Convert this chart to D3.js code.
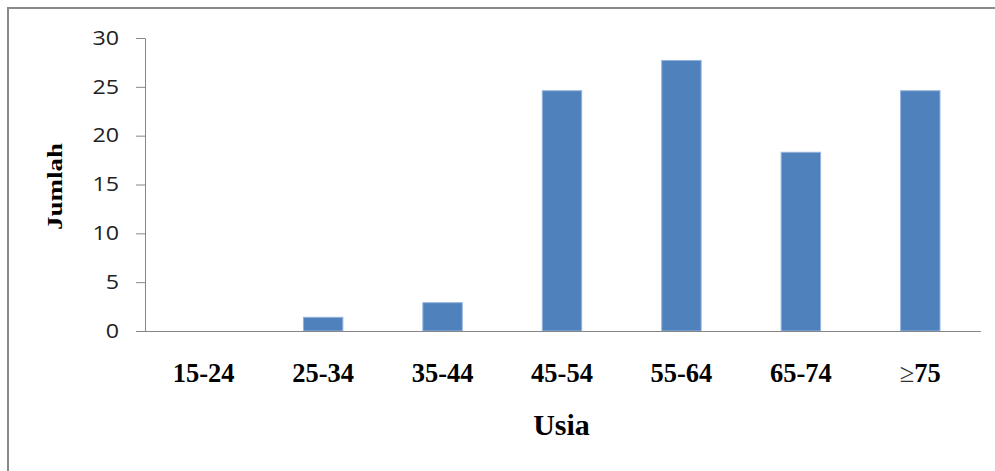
<!DOCTYPE html>
<html>
<head>
<meta charset="utf-8">
<script src="https://cdn.jsdelivr.net/npm/d3@7"></script>
<style>
  html, body { margin: 0; padding: 0; background: #fff; }
  svg { display: block; }
</style>
</head>
<body>
<div id="chart"></div>
<script>
// Age groups and patient counts (percent)
const categories = ["15-24", "25-34", "35-44", "45-54", "55-64", "65-74", "≥75"];
const values = [0, 1.4, 2.9, 24.6, 27.7, 18.3, 24.6];
const yTicks = [0, 5, 10, 15, 20, 25, 30];
const xTitle = "Usia";
const yTitle = "Jumlah";

const W = 995, H = 471;
const plot = { left: 145, right: 981, top: 38, bottom: 331 };

const svg = d3.select("#chart").append("svg")
  .attr("width", W).attr("height", H);

// outer chart frame (extends past the window on the right and bottom)
svg.append("rect")
  .attr("x", 8).attr("y", 8)
  .attr("width", 1100).attr("height", 600)
  .attr("fill", "none")
  .attr("stroke", "#8a8a8a")
  .attr("stroke-width", 2);

// category bands, slightly offset so bar centres sit on the label centres
const x = d3.scaleBand()
  .domain(categories)
  .range([plot.left - 1, plot.right - 1])
  .paddingInner(0.67)
  .paddingOuter(0.335);

const y = d3.scaleLinear().domain([0, 30]).range([plot.bottom, plot.top]);

// bars
svg.append("g").selectAll("rect")
  .data(categories.map((c, i) => ({ c, v: values[i] })))
  .join("rect")
  .attr("x", d => x(d.c))
  .attr("y", d => y(d.v))
  .attr("width", x.bandwidth())
  .attr("height", d => y(0) - y(d.v))
  .attr("fill", "#4f81bd")
  .attr("stroke", d => d.v > 0 ? "#94b3dc" : "none")
  .attr("stroke-width", 1);

// y axis
const yAxis = svg.append("g")
  .attr("transform", `translate(${plot.left},0)`)
  .call(d3.axisLeft(y).tickValues(yTicks).tickSize(9).tickSizeOuter(0).tickPadding(17));
yAxis.select(".domain").attr("stroke", "#868686");
yAxis.selectAll(".tick line").attr("stroke", "#868686");
yAxis.selectAll(".tick text")
  .attr("font-family", "'Open Sans', sans-serif")
  .attr("font-size", 19.5)
  .attr("fill", "#222")
  .attr("textLength", d => String(d).length * 13.3)
  .attr("lengthAdjust", "spacingAndGlyphs");

// x axis
const xAxis = svg.append("g")
  .attr("transform", `translate(0,${plot.bottom})`)
  .call(d3.axisBottom(x).tickSize(0).tickSizeOuter(0).tickFormat(""));
xAxis.select(".domain").attr("stroke", "#868686").attr("d", `M${plot.left},0.5H${plot.right}`);

// category labels
const lab = svg.append("g").selectAll("text")
  .data(categories)
  .join("text")
  .attr("x", d => x(d) + x.bandwidth() / 2)
  .attr("y", 381.5)
  .attr("text-anchor", "middle")
  .attr("font-family", "'Liberation Serif', 'Times New Roman', serif")
  .attr("font-size", 26.5)
  .attr("font-weight", "bold")
  .attr("fill", "#000");
lab.each(function(d) {
  const t = d3.select(this);
  if (d.startsWith("≥")) {
    t.append("tspan").attr("font-weight", "normal").attr("fill", "#333").text("≥");
    t.append("tspan").text(d.slice(1));
  } else {
    t.text(d);
  }
});

// axis titles
svg.append("text")
  .attr("x", 561.5).attr("y", 435)
  .attr("text-anchor", "middle")
  .attr("font-family", "'Liberation Serif', 'Times New Roman', serif")
  .attr("font-size", 30)
  .attr("font-weight", "bold")
  .text(xTitle);

svg.append("text")
  .attr("transform", "translate(62,186.5) rotate(-90)")
  .attr("text-anchor", "middle")
  .attr("font-family", "'Liberation Serif', 'Times New Roman', serif")
  .attr("font-size", 22)
  .attr("font-weight", "bold")
  .attr("textLength", 87)
  .attr("lengthAdjust", "spacingAndGlyphs")
  .text(yTitle);
</script>
</body>
</html>
